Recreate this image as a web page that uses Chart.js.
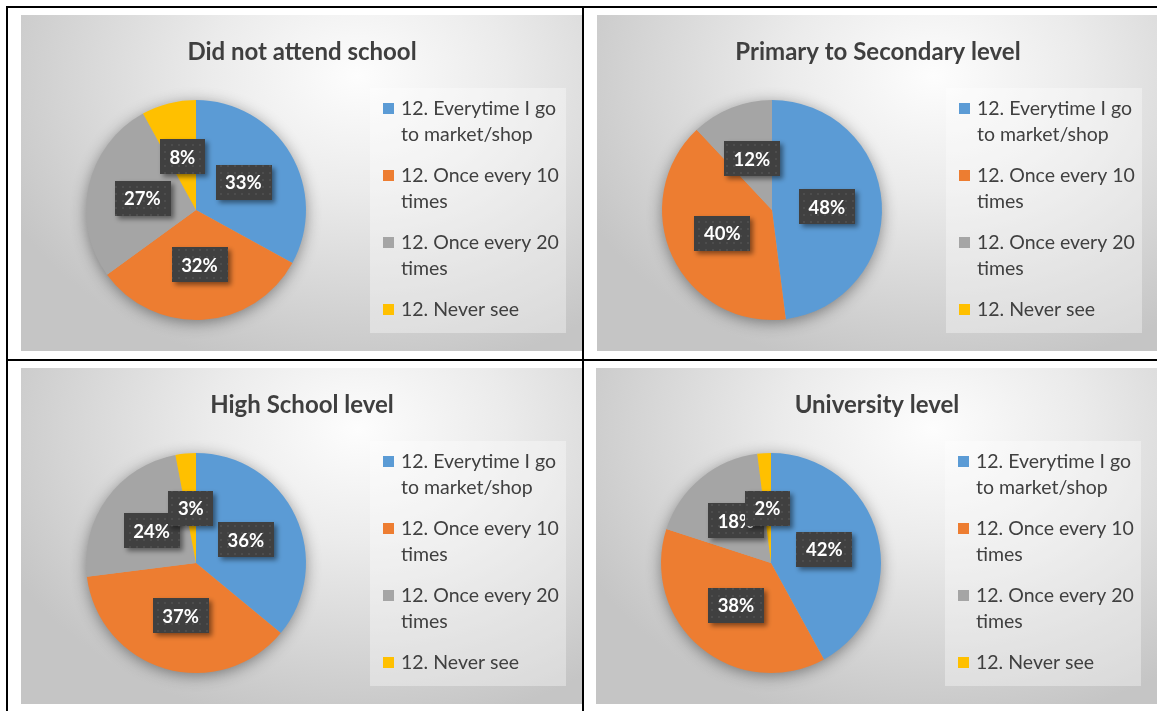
<!DOCTYPE html>
<html>
<head>
<meta charset="utf-8">
<script src="https://cdn.jsdelivr.net/npm/chart.js@4/dist/chart.umd.min.js"></script>
<style>
  html, body { margin: 0; padding: 0; background: #fff; }
  body { width: 1157px; height: 711px; position: relative; overflow: hidden; }
  .panel {
    position: absolute; width: 561px; height: 336px;
    background: radial-gradient(ellipse 70% 90% at 60% 18%, #fdfdfd 0%, #ebebeb 38%, #c5c5c5 100%);
  }
  .panel canvas { position: absolute; left: 0; top: 0; }
  .rule { position: absolute; background: #000; }
</style>
</head>
<body>
<div class="panel" style="left:21px;top:15px"><canvas id="c0" width="561" height="336"></canvas></div>
<div class="panel" style="left:597px;top:15px"><canvas id="c1" width="561" height="336"></canvas></div>
<div class="panel" style="left:21px;top:368px"><canvas id="c2" width="561" height="336"></canvas></div>
<div class="panel" style="left:596px;top:368px"><canvas id="c3" width="561" height="336"></canvas></div>

<div class="rule" style="left:6px;top:6px;width:1151px;height:2px"></div>
<div class="rule" style="left:6px;top:6px;width:2px;height:705px"></div>
<div class="rule" style="left:6px;top:359px;width:1151px;height:2px"></div>
<div class="rule" style="left:582px;top:6px;width:2px;height:705px"></div>

<script>
const categories = [
  '12. Everytime I go to market/shop',
  '12. Once every 10 times',
  '12. Once every 20 times',
  '12. Never see'
];
const colors = ['#5B9BD5', '#ED7D31', '#A5A5A5', '#FFC000'];
const titles = ['Did not attend school', 'Primary to Secondary level', 'High School level', 'University level'];

const didNotAttend = [33, 32, 27, 8];
const primaryToSecondary = [48, 40, 12, 0];
const highSchool = [36, 37, 24, 3];
const university = [42, 38, 18, 2];

const FONT = 'Lato, "Open Sans", sans-serif';

// small dotted texture for the label boxes
function makePattern(ctx) {
  const p = document.createElement('canvas');
  p.width = 7; p.height = 7;
  const pc = p.getContext('2d');
  pc.fillStyle = '#404040';
  pc.fillRect(0, 0, 7, 7);
  pc.fillStyle = '#4d4d4d';
  pc.fillRect(3, 3, 2, 2);
  return ctx.createPattern(p, 'repeat');
}

function wrap(ctx, text, maxWidth) {
  const words = text.split(' ');
  const lines = [];
  let line = '';
  for (const w of words) {
    const test = line ? line + ' ' + w : w;
    if (ctx.measureText(test).width > maxWidth && line) {
      lines.push(line);
      line = w;
    } else {
      line = test;
    }
  }
  lines.push(line);
  return lines;
}

const decor = {
  id: 'decor',
  beforeDatasetsDraw(chart) {
    const ctx = chart.ctx;
    const arc = chart.getDatasetMeta(0).data[0];
    ctx.save();
    ctx.shadowColor = 'rgba(0,0,0,0.45)';
    ctx.shadowBlur = 16;
    ctx.shadowOffsetY = 3;
    ctx.fillStyle = '#aaa';
    ctx.beginPath();
    ctx.arc(arc.x, arc.y, arc.outerRadius - 1, 0, Math.PI * 2);
    ctx.fill();
    ctx.restore();
  },
  afterDatasetsDraw(chart) {
    const ctx = chart.ctx;
    const values = chart.data.datasets[0].data;
    const total = values.reduce((a, b) => a + b, 0);
    const pattern = makePattern(ctx);
    chart.getDatasetMeta(0).data.forEach((arc, i) => {
      if (!values[i]) return;
      const pos = arc.tooltipPosition();
      const txt = Math.round(values[i] / total * 100) + '%';
      ctx.save();
      ctx.font = 'bold 18.5px ' + FONT;
      const w = ctx.measureText(txt).width + 19;
      const h = 35;
      ctx.shadowColor = 'rgba(0,0,0,0.45)';
      ctx.shadowBlur = 5;
      ctx.shadowOffsetX = 3;
      ctx.shadowOffsetY = 3;
      ctx.fillStyle = pattern;
      ctx.fillRect(Math.round(pos.x - w / 2), Math.round(pos.y - h / 2), Math.round(w), h);
      ctx.shadowColor = 'transparent';
      ctx.fillStyle = '#fff';
      ctx.textAlign = 'center';
      ctx.textBaseline = 'middle';
      ctx.fillText(txt, pos.x, pos.y + 1);
      ctx.restore();
    });
  },
  afterDraw(chart) {
    const ctx = chart.ctx;
    const opts = chart.options.plugins.decor;
    ctx.save();
    // title
    ctx.font = 'bold 24px ' + FONT;
    ctx.fillStyle = '#3f3f3f';
    ctx.textAlign = 'center';
    ctx.textBaseline = 'middle';
    ctx.fillText(opts.title, 281, 37);

    // legend
    ctx.fillStyle = 'rgba(255,255,255,0.35)';
    ctx.fillRect(349, 73, 196, 245);
    ctx.font = '19.5px ' + FONT;
    ctx.textAlign = 'left';
    let y = 94;
    chart.data.labels.forEach((label, i) => {
      ctx.fillStyle = chart.data.datasets[0].backgroundColor[i];
      ctx.fillRect(362, y - 6, 11, 11);
      ctx.fillStyle = '#404040';
      const lines = wrap(ctx, label, 165);
      lines.forEach((ln, k) => ctx.fillText(ln, 380, y + k * 25.5));
      y += lines.length * 25.5 + 16;
    });
    ctx.restore();
  }
};

function makePie(id, title, values) {
  return new Chart(document.getElementById(id), {
    type: 'pie',
    data: {
      labels: categories,
      datasets: [{
        data: values,
        backgroundColor: colors,
        borderWidth: 0
      }]
    },
    options: {
      responsive: false,
      animation: false,
      devicePixelRatio: 1,
      layout: { padding: { left: 65, top: 85, right: 276, bottom: 31 } },
      plugins: {
        legend: { display: false },
        tooltip: { enabled: false },
        title: { display: false },
        decor: { title: title }
      }
    },
    plugins: [decor]
  });
}

makePie('c0', titles[0], didNotAttend);
makePie('c1', titles[1], primaryToSecondary);
makePie('c2', titles[2], highSchool);
makePie('c3', titles[3], university);
</script>
</body>
</html>
